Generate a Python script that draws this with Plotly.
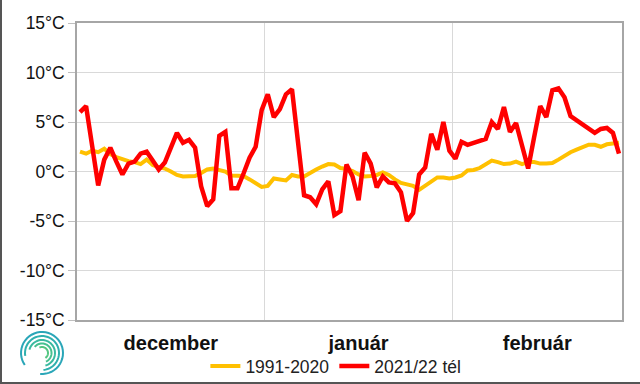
import numpy as np
import plotly.graph_objects as go

# Day index within winter (Dec 1 .. Feb 28), plotted at day centres
days = [i + 0.5 for i in range(90)]

normal_1991_2020 = [
    2.0, 1.8, 2.1, 1.95, 2.3, 1.75, 1.45, 1.2, 1.05, 0.95,
    0.75, 1.2, 0.65, 0.45, 0.3, 0.0, -0.35, -0.5, -0.5, -0.45,
    -0.15, 0.2, 0.3, 0.2, 0.0, -0.4, -0.45, -0.45, -0.8, -1.2,
    -1.55, -1.45, -0.7, -0.8, -0.9, -0.35, -0.5, -0.5, -0.1, 0.2,
    0.5, 0.75, 0.7, 0.35, 0.25, 0.05, -0.3, -0.5, -0.45, -0.35,
    -0.1, -0.35, -0.8, -1.15, -1.3, -1.45, -1.85, -1.45, -1.0, -0.6,
    -0.6, -0.7, -0.6, -0.4, 0.1, 0.15, 0.35, 0.7, 1.1, 0.95,
    0.75, 0.8, 1.0, 0.75, 0.95, 0.95, 0.8, 0.8, 0.85, 1.2,
    1.6, 1.95, 2.2, 2.45, 2.7, 2.7, 2.5, 2.75, 2.8, 2.9,
]

winter_2021_22 = [
    6.0, 6.6, 2.6, -1.4, 1.2, 2.4, 1.0, -0.3, 0.8, 1.0,
    1.8, 2.0, 1.1, 0.2, 0.9, 2.5, 3.9, 2.9, 3.2, 2.4,
    -1.5, -3.5, -2.8, 3.6, 4.0, -1.7, -1.7, -0.2, 1.4, 2.5,
    6.2, 7.8, 5.5, 6.3, 7.8, 8.3, 3.0, -2.4, -2.6, -3.3,
    -1.8, -1.0, -4.4, -4.0, 0.7, -0.5, -2.9, 1.9, 0.8, -1.6,
    -0.5, -1.1, -1.2, -2.1, -5.0, -4.2, -0.3, 0.4, 3.8, 2.2,
    5.0, 2.1, 1.3, 3.0, 2.7, 2.9, 3.1, 3.3, 5.0, 4.3,
    6.5, 4.0, 4.9, 2.6, 0.3, 3.5, 6.6, 5.5, 8.2, 8.4,
    7.5, 5.6, 5.2, 4.7, 4.3, 3.9, 4.3, 4.4, 3.9, 1.8,
]

month_labels = ["december", "január", "február"]
month_centres = [15.5, 46.5, 76.0]
month_bounds = [31, 62]
y_ticks = [-15, -10, -5, 0, 5, 10, 15]
y_tick_text = [f"{v}°C" for v in y_ticks]

FONT = "Liberation Sans"

fig = go.Figure()
fig.add_trace(go.Scatter(
    x=days, y=normal_1991_2020, mode="lines", name="1991-2020",
    line=dict(color="#FFC000", width=4), xaxis="x", yaxis="y"))
fig.add_trace(go.Scatter(
    x=days, y=winter_2021_22, mode="lines", name="2021/22 tél",
    line=dict(color="#FF0000", width=4.5), xaxis="x", yaxis="y"))
# invisible trace on the boundary axis so it is rendered
fig.add_trace(go.Scatter(x=[0, 90], y=[None, None], xaxis="x2", yaxis="y",
                         showlegend=False, hoverinfo="skip"))

W, H = 640, 384
L, R, T, B = 77, 622, 23, 320


def px(x):
    return (x - L) / (R - L)


def py(y):
    return (B - y) / (B - T)


shapes = []
# frame edges (left and bottom)
shapes.append(dict(type="line", xref="paper", yref="paper",
                   x0=px(1), x1=px(1), y0=py(383), y1=py(0),
                   line=dict(color="#555555", width=2), layer="above"))
shapes.append(dict(type="line", xref="paper", yref="paper",
                   x0=px(0), x1=px(640), y0=py(383), y1=py(383),
                   line=dict(color="#555555", width=2), layer="above"))
# logo: a teal spiral of arcs
cx, cy = 42, 353
cols = ["#2aa6b8", "#2fb0ae", "#38b99f", "#45c08f", "#55c682"]
for k, r in enumerate([21, 17, 13, 9.5, 6]):
    a0 = np.deg2rad(215 - k * 25)
    a1 = np.deg2rad(-95 + k * 10)
    ang = np.linspace(a0, a1 - 2 * np.pi if a1 > a0 else a1, 40)
    xs = cx + r * np.cos(ang)
    ys = cy - r * np.sin(ang)
    path = "M " + " L ".join(f"{px(a):.4f},{py(b):.4f}" for a, b in zip(xs, ys))
    shapes.append(dict(type="path", xref="paper", yref="paper", path=path,
                       line=dict(color=cols[k], width=2)))

fig.update_layout(
    width=W, height=H,
    margin=dict(l=L, r=W - R, t=T, b=H - B, autoexpand=False),
    paper_bgcolor="white", plot_bgcolor="white",
    font=dict(family=FONT, color="#222222"),
    showlegend=True,
    legend=dict(orientation="h", x=0.475, xanchor="center", y=-0.155,
                yanchor="middle", font=dict(size=17.5, family=FONT, color="#222"),
                itemwidth=30, tracegroupgap=0, bgcolor="rgba(0,0,0,0)"),
    xaxis=dict(range=[0, 90], tickvals=month_centres,
               ticktext=[f"<b>{m}</b>" for m in month_labels],
               tickfont=dict(size=20, family=FONT, color="#111"),
               showgrid=False, zeroline=False, showline=True, mirror=True,
               linecolor="#a6a6a6", linewidth=1.5, ticks="", ticklabelstandoff=4),
    xaxis2=dict(range=[0, 90], overlaying="x", tickvals=month_bounds,
                showticklabels=False, showgrid=True, gridcolor="#d9d9d9",
                gridwidth=1, zeroline=False, showline=False, ticks=""),
    yaxis=dict(range=[-15, 15], tickvals=y_ticks, ticktext=y_tick_text,
               tickfont=dict(size=17.5, family=FONT, color="#111"),
               showgrid=True, gridcolor="#d9d9d9", gridwidth=1,
               zeroline=False, showline=True, mirror=True,
               linecolor="#a6a6a6", linewidth=1.5,
               ticks="outside", ticklen=7, tickcolor="#bfbfbf"),
    shapes=shapes,
)

fig.write_html("out.html", config={"displayModeBar": False},
               post_script="document.body.style.margin='0';document.body.style.overflow='hidden';")
